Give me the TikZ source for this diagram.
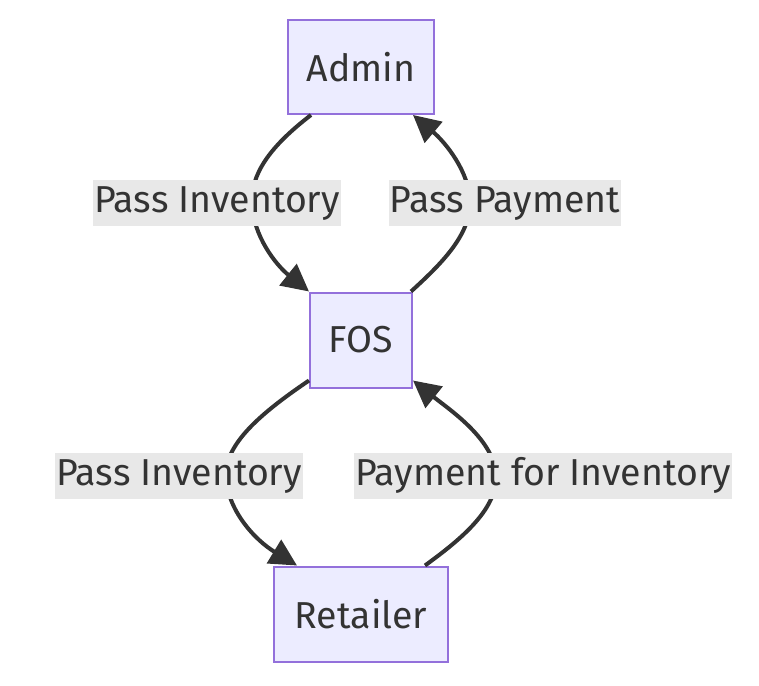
\documentclass[tikz,border=0pt]{standalone}
\usepackage{fontspec}
\setmainfont{Fira Sans}
\usetikzlibrary{arrows.meta}
\definecolor{boxfill}{HTML}{ECECFF}
\definecolor{boxline}{HTML}{9370DB}
\definecolor{ink}{HTML}{333333}
\definecolor{lblbg}{HTML}{E8E8E8}
\begin{document}
\begin{tikzpicture}[x=1pt,y=-1pt,
  box/.style={draw=boxline,fill=boxfill,line width=2pt,text=ink,
    font=\fontsize{37.5}{44}\selectfont,inner sep=0pt},
  lbl/.style={fill=lblbg,text=ink,font=\fontsize{37.5}{44}\selectfont,
    inner xsep=1pt,inner ysep=0pt,minimum height=46pt,text depth=9pt,text height=28pt},
  edge/.style={draw=ink,line width=4pt,
    -{Triangle[length=27pt,width=27pt]}}]
\useasboundingbox (0,0) rectangle (759,685);
\node[box,minimum width=146pt,minimum height=94pt] (admin) at (361,67) {Admin};
\node[box,minimum width=102pt,minimum height=95pt] (fos) at (361,340) {FOS};
\node[box,minimum width=174pt,minimum height=95pt] (ret) at (361,614) {Retailer};

\coordinate (a1) at (252,203);
\coordinate (a2) at (470,203);
\coordinate (a3) at (226,476);
\coordinate (a4) at (496,476);

\draw[edge] ([xshift=24pt]admin.south west) .. controls (268,148) and (251,175) .. (a1)
  .. controls (253,236) and (276,265) .. (fos.north west);
\draw[edge] ([xshift=-2pt]fos.north east) .. controls (440,265) and (470,236) .. (a2)
  .. controls (470,172) and (445,142) .. ([xshift=-22pt]admin.south east);
\draw[edge] ([yshift=8pt]fos.south west) .. controls (258,415) and (225,445) .. (a3)
  .. controls (227,510) and (255,540) .. ([xshift=24pt]ret.north west);
\draw[edge] ([xshift=-24pt]ret.north east) .. controls (460,540) and (497,510) .. (a4)
  .. controls (495,440) and (450,410) .. ([yshift=8pt]fos.south east);

\node[lbl] (l1) at (217,203) {Pass Inventory};
\node[lbl] (l2) at (505,203) {Pass Payment};
\node[lbl] (l3) at (179,476) {Pass Inventory};
\node[lbl] (l4) at (543,476) {Payment for Inventory};
\end{tikzpicture}
\end{document}
